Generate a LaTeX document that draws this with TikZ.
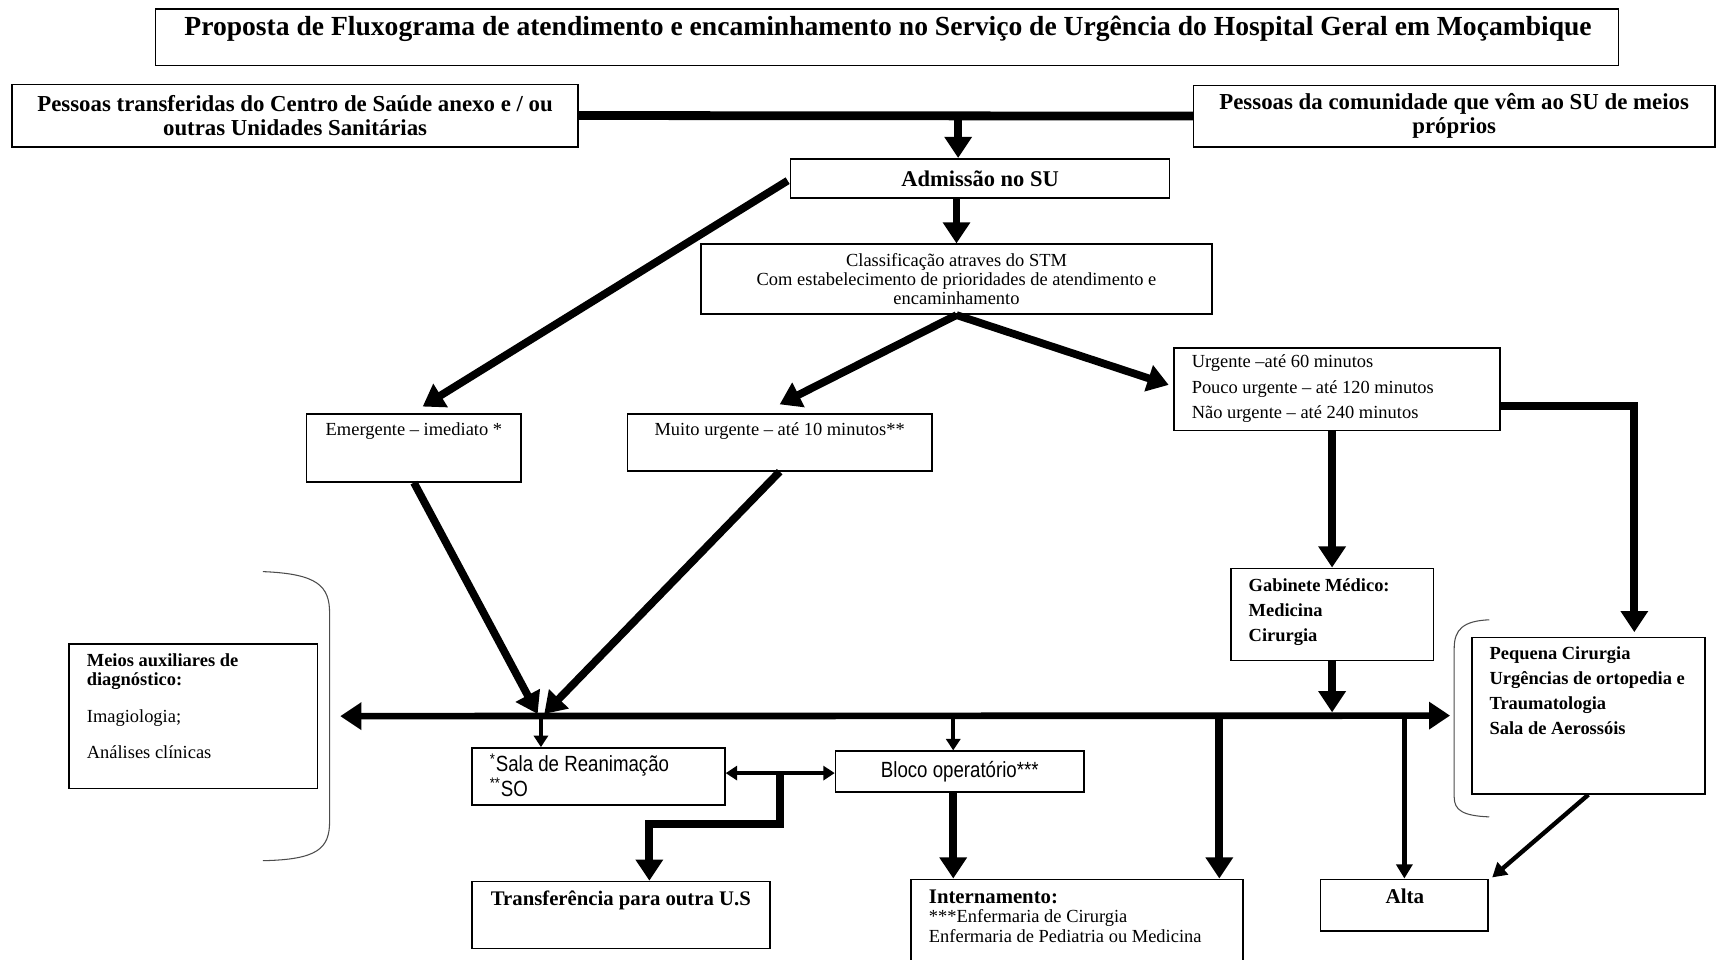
\documentclass[tikz,border=0pt]{standalone}
\usepackage{fontspec}
\setmainfont{Liberation Serif}
\newfontfamily\narrowsf[FakeStretch=0.85]{Liberation Sans}
\usetikzlibrary{arrows.meta,calc}

\begin{document}
\begin{tikzpicture}[x=0.219mm, y=-0.219mm,
  box/.style 2 args={draw, line width=0.9pt, minimum width=#1*0.219mm, minimum height=#2*0.219mm, inner sep=0pt},
  txt/.style={inner sep=0pt},
  bigarrow/.style={line width=4.4pt, -{Triangle[length=12pt,width=15pt]}},
  midarrow/.style={line width=2.5pt, -{Triangle[length=8pt,width=9pt]}},
  smallarrow/.style={line width=2pt, -{Triangle[length=6.5pt,width=8pt]}},
  bracket/.style={draw=black!70, line width=0.6pt}]

\useasboundingbox (0,0) rectangle (1568,876);

\node[box={1336}{52}] (title) at (810,34) {}; % title
\node[txt, anchor=north, font=\bfseries\fontsize{15.7}{18}\selectfont] (titletext) at (811,14) {Proposta de Fluxograma de atendimento e encaminhamento no Serviço de Urgência do Hospital Geral em Moçambique};

\node[box={517}{57}, align=center, font=\bfseries\fontsize{13}{13.7}\selectfont] (transfin) at (269.5,105.5) {Pessoas transferidas do Centro de Saúde anexo e / ou\\outras Unidades Sanitárias}; % source 1
\node[box={476}{56}, align=center, font=\bfseries\fontsize{13}{13.7}\selectfont] (community) at (1328,106) {Pessoas da comunidade que vêm ao SU de meios\\próprios}; % source 2
\node[box={346}{36}, font=\bfseries\fontsize{12.8}{15}\selectfont] (admission) at (895,163) {Admissão no SU};
\node[box={467}{64}, align=center, font=\fontsize{10.5}{10.9}\selectfont] (triage) at (873.5,255) {Classificação atraves do STM\\Com estabelecimento de prioridades de atendimento e\\encaminhamento};

\node[box={196}{62}] (emergent) at (378,409) {};
\node[txt, anchor=north, font=\fontsize{10.5}{12}\selectfont] (emergenttext) at (378,386) {Emergente – imediato *};
\node[box={278}{52}] (veryurgent) at (712,404) {};
\node[txt, anchor=north, font=\fontsize{10.5}{12}\selectfont] (veryurgenttext) at (712,386) {Muito urgente – até 10 minutos**};
\node[box={298}{75}] (urgent) at (1221,355.5) {};
\node[txt, anchor=north west, align=left, font=\fontsize{10.5}{14.3}\selectfont] (urgenttext) at (1088,324) {Urgente –até 60 minutos\\Pouco urgente – até 120 minutos\\Não urgente – até 240 minutos};

\node[box={185}{84}] (gabinete) at (1216.5,561) {};
\node[txt, anchor=north west, align=left, font=\bfseries\fontsize{10.5}{14.3}\selectfont] (gabinetetext) at (1140,528) {Gabinete Médico:\\Medicina\\Cirurgia};
\node[box={227}{132}] (auxdiag) at (176.5,654) {};
\node[txt, anchor=north west, align=left, font=\fontsize{10.5}{10.6}\selectfont] (auxdiagtext) at (79,597) {\textbf{Meios auxiliares de}\\\textbf{diagnóstico:}\\[10.6pt]Imagiologia;\\[10pt]Análises clínicas};
\node[box={213}{143}] (minorsurg) at (1450.5,653.5) {};
\node[txt, anchor=north west, align=left, font=\bfseries\fontsize{10.5}{14.3}\selectfont] (minorsurgtext) at (1360,590) {Pequena Cirurgia\\Urgências de ortopedia e\\Traumatologia\\Sala de Aerossóis};

\node[box={231}{52}] (rescue) at (546.5,709) {};
\node[txt, anchor=north west, align=left, font=\narrowsf\fontsize{12.5}{12}\selectfont] (rescuetext) at (447,688) {\textsuperscript{*}Sala de Reanimação\\\textsuperscript{**}SO};
\node[box={227}{37}, font=\narrowsf\fontsize{12.5}{14}\selectfont] (surgery) at (876.5,704.5) {Bloco operatório***};
\node[box={272}{61}] (transfer) at (567,835.5) {};
\node[txt, anchor=north, font=\bfseries\fontsize{11.8}{13}\selectfont] (transfertext) at (567,813) {Transferência para outra U.S};
\node[box={303}{76}] (ward) at (983.5,841) {};
\node[txt, anchor=north west, align=left, font=\fontsize{10.5}{11.2}\selectfont] (wardtext) at (848,812) {{\bfseries\fontsize{11.8}{13}\selectfont Internamento:}\\***Enfermaria de Cirurgia\\Enfermaria de Pediatria ou Medicina};
\node[box={153}{47}] (discharge) at (1282.5,826.5) {};
\node[txt, anchor=north, font=\bfseries\fontsize{12}{13}\selectfont] (dischargetext) at (1283,811) {Alta};

% junction points
\coordinate (entry) at (875,106);
\coordinate (barL) at ([shift={(20,0)}]auxdiag.east);
\coordinate (barR) at ([shift={(-19,0)}]minorsurg.west);
\coordinate (hub) at (494,652);
\coordinate (split) at ($(rescue.east)!0.5!(surgery.west)$);

% entrada
\draw[line width=5pt] (transfin.east) -- (community.west);
\draw[bigarrow] (entry) -- (entry |- admission.north);
\draw[bigarrow] (admission.south -| triage.north) -- (triage.north);

% triagem
\draw[bigarrow] ([shift={(-2,2)}]admission.west) -- ([shift={(8,-6)}]emergent.north);
\draw[bigarrow] (triage.south) -- ([shift={(0,-8)}]veryurgent.north);
\draw[bigarrow] (triage.south) -- ([shift={(-4,-4)}]urgent.west);
\draw[bigarrow] ([shift={(0,15)}]urgent.east) -| ([shift={(42,-4)}]minorsurg.north);
\draw[bigarrow] (urgent.south -| gabinete.north) -- (gabinete.north);
\draw[bigarrow] (gabinete.south) -- ([shift={(0,-3)}]gabinete.south |- barR);

% eixo central
\draw[line width=3.8pt, {Triangle[length=12pt,width=15pt]}-{Triangle[length=12pt,width=15pt]}] (barL) -- (barR);
\draw[bigarrow] (emergent.south) -- ([shift={(-3,0)}]hub);
\draw[bigarrow] (veryurgent.south) -- ([shift={(3,0)}]hub);
\draw[smallarrow] (hub) -- (hub |- rescue.north);
\draw[smallarrow] ([shift={(-6,0)}]surgery.north |- barR) -- ([shift={(-6,0)}]surgery.north);
\draw[bigarrow] ([shift={(130,0)}]ward.north |- barR) -- ([shift={(130,0)}]ward.north);
\draw[midarrow] (discharge.north |- barR) -- (discharge.north);

% saidas
\draw[smallarrow, {Triangle[length=6.5pt,width=8pt]}-{Triangle[length=6.5pt,width=8pt]}] ([shift={(0,-3)}]rescue.east) -- ([shift={(0,-3)}]rescue.east -| surgery.west);
\draw[bigarrow] (split) -- ++(0,46) -| ([shift={(26,0)}]transfer.north);
\draw[bigarrow] ([shift={(-6,0)}]surgery.south) -- ([shift={(-6,0)}]surgery.south |- ward.north);
\draw[midarrow] (minorsurg.south) -- ([shift={(3,-1)}]discharge.north east);

% chavetas
\draw[bracket] (240,522) .. controls (290,524) and (301,535) .. (301,560) -- (301,750) .. controls (301,775) and (290,785) .. (240,786);
\draw[bracket] (1360,566) .. controls (1336,567) and (1328,575) .. (1328,592) -- (1328,728) .. controls (1328,740) and (1336,745) .. (1360,746);

\end{tikzpicture}
\end{document}
